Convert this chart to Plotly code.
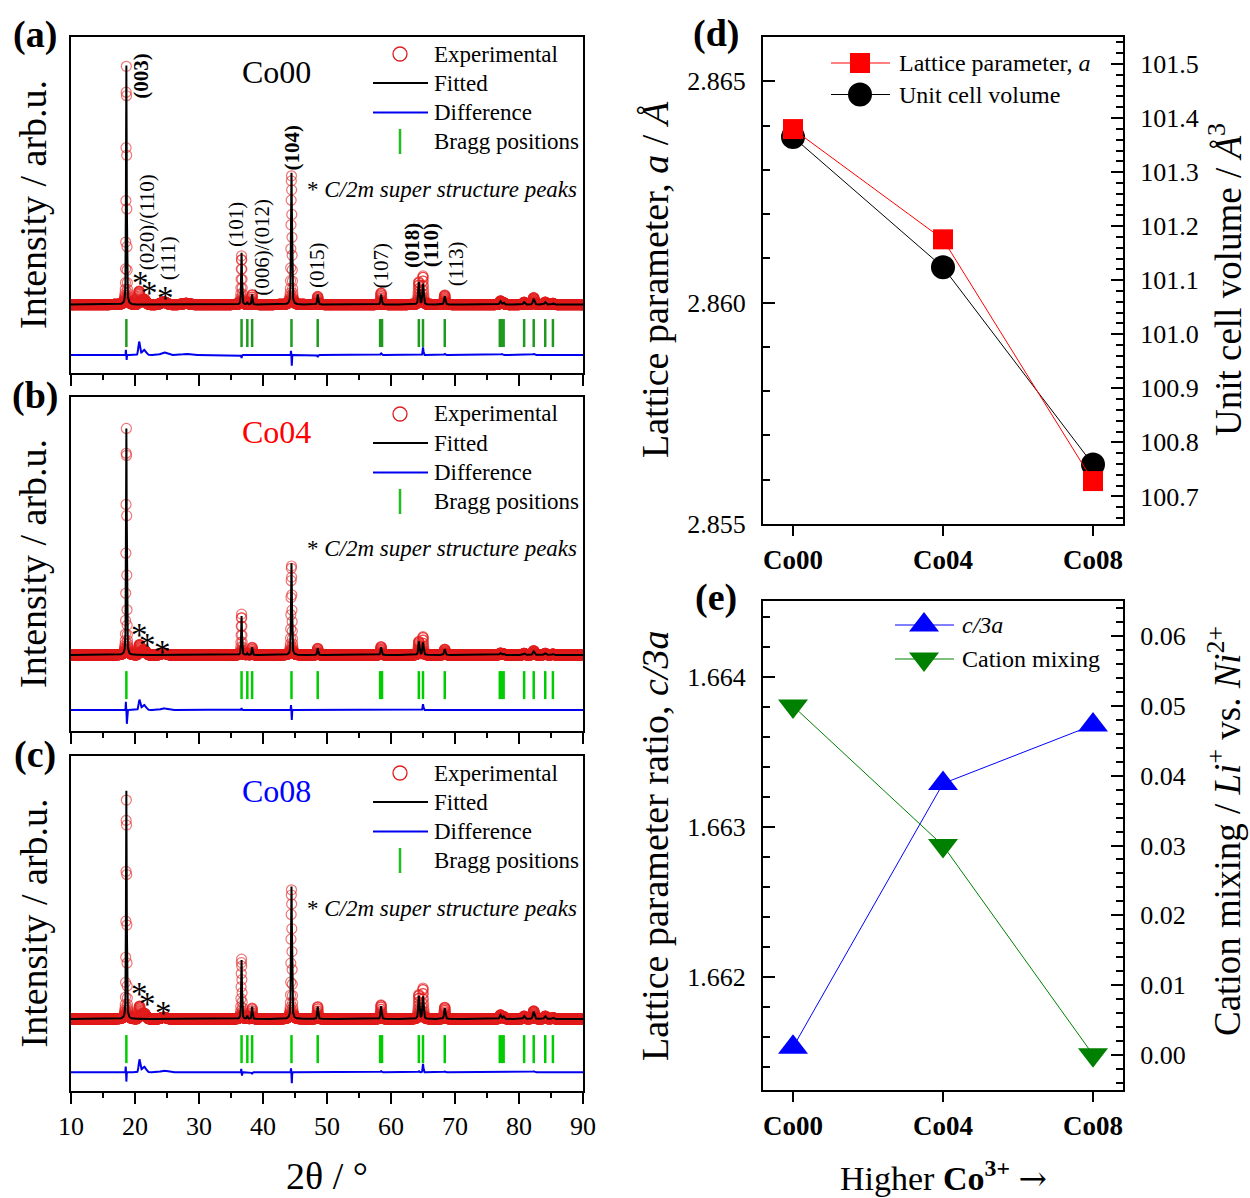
import numpy as np
import plotly.graph_objects as go

SERIF = "Liberation Serif"
W, H = 1250, 1198


def fx(px):
    return px / W


def fy(py):
    return 1 - py / H


# ---------------- Rietveld refinement data (intensity, arb. units) ----------------
scan_start, scan_stop, scan_step = 10.0, 90.0, 0.025

# R-3m reflections used in the refinement
peak_pos = [18.65, 36.65, 37.55, 38.30, 44.45, 48.55, 58.45, 64.35, 65.00, 68.40,
            77.10, 77.60, 80.80, 82.30, 84.10, 85.30]
peak_fwhm = [0.13, 0.15, 0.15, 0.16, 0.17, 0.19, 0.21, 0.22, 0.22, 0.24,
             0.28, 0.28, 0.30, 0.30, 0.32, 0.32]

fit_co00 = [100.0, 21.7, 1.0, 4.2, 55.2, 4.2, 4.2, 9.4, 8.7, 3.5, 1.4, 0.8, 1.0, 2.4, 1.0, 0.5]
fit_co04 = [94.8, 16.3, 0.7, 3.2, 38.4, 2.8, 3.2, 5.6, 5.2, 2.4, 0.8, 0.5, 0.7, 1.5, 0.7, 0.4]
fit_co08 = [95.5, 24.7, 1.3, 5.2, 55.4, 5.2, 5.4, 9.6, 9.3, 4.5, 1.7, 1.0, 1.2, 3.0, 1.2, 0.6]

# observed - calculated features (C/2m superstructure humps and misfit at strong lines)
resid_pos_co00 = [18.57, 18.70, 20.65, 21.40, 24.50, 28.00, 36.65, 44.38, 44.50, 48.55, 58.45, 65.00, 68.40, 77.30, 82.30]
resid_amp_co00 = [2.2, -2.1, 5.5, 2.2, 1.1, 0.5, -1.3, 1.8, -4.5, -0.8, 0.7, 3.2, 0.5, 0.4, 0.5]
resid_fwhm_co00 = [0.06, 0.06, 0.30, 0.70, 1.00, 1.20, 0.10, 0.08, 0.08, 0.15, 0.20, 0.15, 0.20, 0.30, 0.30]

resid_pos_co04 = [18.57, 18.73, 20.70, 21.40, 24.50, 36.65, 44.38, 44.50, 58.45, 65.00, 82.30]
resid_amp_co04 = [3.5, -5.9, 4.2, 2.1, 0.7, 0.8, 2.1, -4.2, 0.3, 2.4, 0.3]
resid_fwhm_co04 = [0.06, 0.06, 0.30, 0.70, 1.00, 0.10, 0.08, 0.08, 0.20, 0.15, 0.30]

resid_pos_co08 = [18.55, 18.66, 20.70, 21.40, 24.50, 36.60, 36.72, 38.30, 44.38, 44.50, 58.45, 64.35, 65.00, 68.40, 82.30]
resid_amp_co08 = [2.4, -4.2, 5.2, 2.4, 0.7, 1.4, -1.4, -0.7, 1.7, -4.6, 0.5, 0.5, 3.5, 0.4, 0.4]
resid_fwhm_co08 = [0.06, 0.06, 0.30, 0.70, 1.00, 0.08, 0.08, 0.12, 0.08, 0.08, 0.20, 0.15, 0.15, 0.20, 0.30]

bragg_positions = [18.65, 36.65, 37.55, 38.30, 44.45, 48.55, 58.30, 58.60, 64.35, 65.00,
                   68.40, 77.00, 77.30, 77.60, 80.80, 82.30, 84.10, 85.30]

hkl_labels = ["(003)", "(020)/(110)", "(111)", "(101)", "(006)/(012)", "(104)",
              "(015)", "(107)", "(018)", "(110)", "(113)"]
hkl_label_x = [20.9, 21.9, 25.2, 35.8, 39.8, 44.6, 48.45, 58.5, 63.3, 66.3, 70.2]
hkl_label_bold = [True, False, False, False, False, True, False, False, True, True, False]

# ---------------- Refined structural parameters ----------------
samples = ["Co00", "Co04", "Co08"]
lattice_a = [2.86392, 2.86143, 2.85597]          # Å
cell_volume = [101.365, 101.124, 100.759]         # Å^3
c_over_3a = [1.66153, 1.66329, 1.66368]
cation_mixing = [0.050, 0.030, 0.000]


def profile(x, pos, height, fwhm, eta=0.5):
    y = np.zeros_like(x)
    for p, h, w in zip(pos, height, fwhm):
        lor = 1.0 / (1.0 + ((x - p) / (w / 2.0)) ** 2)
        gau = np.exp(-4.0 * np.log(2.0) * ((x - p) / w) ** 2)
        y += h * (eta * lor + (1 - eta) * gau)
    return y


def gauss_sum(x, pos, amp, fwhm):
    y = np.zeros_like(x)
    for p, a, w in zip(pos, amp, fwhm):
        y += a * np.exp(-4.0 * np.log(2.0) * ((x - p) / w) ** 2)
    return y


two_theta = np.arange(scan_start, scan_stop + scan_step / 2, scan_step)

PX_PER_UNIT = 2.39  # vertical scale of the XRD panels

xrd_panels = [
    dict(tag="(a)", sample="Co00", sample_color="black", fit=fit_co00,
         rp=resid_pos_co00, ra=resid_amp_co00, rw=resid_fwhm_co00,
         top=37, bottom=373, base=304.6, bragg_y=-11.9, diff_y=-21.1, bragg_color="#1f9a1f"),
    dict(tag="(b)", sample="Co04", sample_color="#ff0000", fit=fit_co04,
         rp=resid_pos_co04, ra=resid_amp_co04, rw=resid_fwhm_co04,
         top=397, bottom=731, base=655.0, bragg_y=-12.6, diff_y=-23.0, bragg_color="#00cc00"),
    dict(tag="(c)", sample="Co08", sample_color="#0000ff", fit=fit_co08,
         rp=resid_pos_co08, ra=resid_amp_co08, rw=resid_fwhm_co08,
         top=756, bottom=1091, base=1019.0, bragg_y=-12.6, diff_y=-22.3, bragg_color="#00cc00"),
]

XL, XR = 71, 583

fig = go.Figure()
annotations = []
shapes = []


def text(x, y, s, size, color="black", xanchor="center", yanchor="middle",
         angle=0, xref="paper", yref="paper"):
    annotations.append(dict(
        x=x, y=y, xref=xref, yref=yref, text=s, showarrow=False,
        xanchor=xanchor, yanchor=yanchor, textangle=angle,
        font=dict(family=SERIF, size=size, color=color)))


def seg(x0, y0, x1, y1, color, width):
    shapes.append(dict(type="line", xref="paper", yref="paper",
                       x0=fx(x0), y0=fy(y0), x1=fx(x1), y1=fy(y1),
                       line=dict(color=color, width=width)))


def sym(kind, cx, cy, size, color, open_=False, lw=1.2):
    r = size / 2.0
    d = dict(xref="paper", yref="paper", xsizemode="pixel", ysizemode="pixel",
             xanchor=fx(cx), yanchor=fy(cy))
    if kind == "circle":
        d.update(type="circle", x0=-r, x1=r, y0=-r, y1=r)
    elif kind == "square":
        d.update(type="rect", x0=-r, x1=r, y0=-r, y1=r)
    elif kind == "tri-up":
        rt = r * 2 / np.sqrt(3)
        d.update(type="path", path=f"M{-rt:.2f},{-r/2:.2f} L{rt:.2f},{-r/2:.2f} L0,{r:.2f} Z")
    elif kind == "tri-down":
        rt = r * 2 / np.sqrt(3)
        d.update(type="path", path=f"M{-rt:.2f},{r/2:.2f} L{rt:.2f},{r/2:.2f} L0,{-r:.2f} Z")
    if open_:
        d.update(fillcolor="rgba(0,0,0,0)", line=dict(color=color, width=lw))
    else:
        d.update(fillcolor=color, line=dict(width=0))
    shapes.append(d)


layout_axes = {}
for i, pnl in enumerate(xrd_panels):
    n = "" if i == 0 else str(i + 1)
    xa, ya = "x" + n, "y" + n
    fit = profile(two_theta, peak_pos, pnl["fit"], peak_fwhm)
    obs = fit + gauss_sum(two_theta, pnl["rp"], pnl["ra"], pnl["rw"])

    fig.add_trace(go.Scatter(
        x=two_theta, y=obs, mode="markers", xaxis=xa, yaxis=ya, showlegend=False,
        hoverinfo="skip",
        marker=dict(symbol="circle-open", size=10, color="rgba(226,30,30,0.6)",
                    line=dict(width=1.2))))
    fig.add_trace(go.Scatter(
        x=two_theta, y=fit, mode="lines", xaxis=xa, yaxis=ya, showlegend=False,
        hoverinfo="skip", line=dict(color="black", width=2)))
    fig.add_trace(go.Scatter(
        x=two_theta, y=obs - fit + pnl["diff_y"], mode="lines", xaxis=xa, yaxis=ya,
        showlegend=False, hoverinfo="skip", line=dict(color="#0000ee", width=2)))
    fig.add_trace(go.Scatter(
        x=bragg_positions, y=[pnl["bragg_y"]] * len(bragg_positions), mode="markers",
        xaxis=xa, yaxis=ya, showlegend=False, hoverinfo="skip",
        marker=dict(symbol="line-ns", size=20,
                    line=dict(width=2.5, color=pnl["bragg_color"]))))

    top_u = (pnl["base"] - pnl["top"]) / PX_PER_UNIT
    bot_u = -(pnl["bottom"] - pnl["base"]) / PX_PER_UNIT
    last = i == len(xrd_panels) - 1
    layout_axes["xaxis" + n] = dict(
        domain=[fx(XL), fx(XR)], anchor=ya, range=[10, 90], tick0=10, dtick=10,
        showline=True, linecolor="black", linewidth=2, mirror=True,
        ticks="outside", ticklen=11, tickwidth=2, tickcolor="black",
        minor=dict(ticks="outside", ticklen=5, tickwidth=2, tickcolor="black", dtick=5),
        showgrid=False, zeroline=False, showticklabels=last, ticklabelstandoff=0,
        automargin=False, tickfont=dict(family=SERIF, size=26, color="black"))
    layout_axes["yaxis" + n] = dict(
        domain=[fy(pnl["bottom"]), fy(pnl["top"])], anchor=xa, range=[bot_u, top_u],
        showline=True, linecolor="black", linewidth=2, mirror=True, ticks="",
        showticklabels=False, showgrid=False, zeroline=False, automargin=False)

    # panel tag, axis title, sample name
    t = pnl["top"]
    text(fx(35), fy(t - 2), f"<b>{pnl['tag']}</b>", 38)
    text(fx(33), fy((pnl["top"] + pnl["bottom"]) / 2), "Intensity / arb.u.", 38, angle=-90)
    text(fx(276), fy(t + 35), pnl["sample"], 32, color=pnl["sample_color"])

    # legend
    sym("circle", 400, t + 17, 14, "#e01e1e", open_=True, lw=1.3)
    seg(373, t + 46, 428, t + 46, "black", 2)
    seg(373, t + 75.5, 428, t + 75.5, "#0000ee", 2)
    seg(400, t + 92, 400, t + 117, "#22bb22", 2.5)
    for k, lbl in enumerate(["Experimental", "Fitted", "Difference", "Bragg positions"]):
        text(fx(432), fy(t + 17 + k * 29.2), lbl, 23, xanchor="left")
    text(fx(305), fy(t + 152), "* <i>C/2m super structure peaks</i>", 23, xanchor="left")

# asterisks marking the C/2m superstructure reflections
star_x = [[20.8, 22.3, 24.8], [20.7, 22.0, 24.3], [20.7, 22.0, 24.5]]
star_dy = [[239, 249, 254], [231, 241, 248], [231, 241, 250]]
for i, pnl in enumerate(xrd_panels):
    n = "" if i == 0 else str(i + 1)
    for sx, dy in zip(star_x[i], star_dy[i]):
        text(sx, fy(pnl["top"] + dy + 7), "*", 33, xref="x" + n)

# Miller indices in panel (a)
hkl_label_py = [76, 222, 258, 224, 247, 147, 265, 265, 245, 245, 264]
for lbl, lx, ly, bold in zip(hkl_labels, hkl_label_x, hkl_label_py, hkl_label_bold):
    s = f"<b>{lbl}</b>" if bold else lbl
    text(lx, fy(ly), s, 21, xref="x", angle=-90)

text(fx((XL + XR) / 2), fy(1176), "2θ / °", 38)

# ---------------- Panel (d): lattice parameter a and cell volume ----------------
DXL, DXR = 763, 1123
cat_range = [-0.2, 2.2]
bold_ticks = [f"<b>{s}</b>" for s in samples]

# cell volume on the base (right-hand) axis, lattice parameter drawn over it
fig.add_trace(go.Scatter(
    x=samples, y=cell_volume, mode="lines+markers", xaxis="x4", yaxis="y4",
    showlegend=False, line=dict(color="black", width=1),
    marker=dict(symbol="circle", size=24, color="black")))
fig.add_trace(go.Scatter(
    x=samples, y=lattice_a, mode="lines+markers", xaxis="x4", yaxis="y5",
    showlegend=False, line=dict(color="#ff0000", width=1),
    marker=dict(symbol="square", size=20, color="#ff0000")))

# ---------------- Panel (e): c/3a ratio and cation mixing ----------------
fig.add_trace(go.Scatter(
    x=samples, y=c_over_3a, mode="lines+markers", xaxis="x6", yaxis="y6",
    showlegend=False, line=dict(color="#0000ff", width=1),
    marker=dict(symbol="triangle-up", size=26, color="#0000ff")))
fig.add_trace(go.Scatter(
    x=samples, y=cation_mixing, mode="lines+markers", xaxis="x6", yaxis="y7",
    showlegend=False, line=dict(color="#008000", width=1),
    marker=dict(symbol="triangle-down", size=26, color="#008000")))

tick_font = dict(family=SERIF, size=26, color="black")


def cat_axis(anchor):
    return dict(domain=[fx(DXL), fx(DXR)], anchor=anchor, type="category",
                range=cat_range, tickvals=samples, ticktext=bold_ticks,
                showline=True, linecolor="black", linewidth=2, mirror=True,
                ticks="outside", ticklen=10, tickwidth=2, tickcolor="black",
                showgrid=False, zeroline=False, ticklabelstandoff=1, automargin=False,
                tickfont=dict(family=SERIF, size=27, color="black"))


def val_axis(domain_px, rng, dtick, minor_dtick, fmt, side="left", overlay=None, anchor=None):
    d = dict(range=rng, dtick=dtick, tick0=0, tickformat=fmt, side=side,
             showline=True, linecolor="black", linewidth=2,
             ticks="inside", ticklen=12, tickwidth=2, tickcolor="black",
             minor=dict(ticks="inside", ticklen=7, tickwidth=2, tickcolor="black",
                        dtick=minor_dtick),
             showgrid=False, zeroline=False, ticklabelstandoff=10, automargin=False,
             tickfont=tick_font)
    if overlay:
        d.update(overlaying=overlay, anchor=anchor)
    else:
        d.update(domain=[fy(domain_px[1]), fy(domain_px[0])], anchor=anchor)
    return d


layout_axes["xaxis4"] = cat_axis("y4")
layout_axes["yaxis4"] = val_axis((37, 524), [100.649, 101.55], 0.1, 0.02, ".1f", side="right",
                                 anchor="x4")
layout_axes["yaxis5"] = val_axis(None, [2.855, 2.866], 0.005, 0.001, ".3f", side="left",
                                 overlay="y4", anchor="x4")
layout_axes["xaxis6"] = cat_axis("y6")
layout_axes["yaxis6"] = val_axis((601, 1090), [1.661245, 1.664508], 0.001, 0.0002, ".3f", anchor="x6")
layout_axes["yaxis7"] = val_axis(None, [-0.00507, 0.06507], 0.01, 0.002, ".2f", side="right",
                                 overlay="y6", anchor="x6")

# panel tags and axis titles
text(fx(716), fy(33), "<b>(d)</b>", 38)
text(fx(716), fy(597), "<b>(e)</b>", 38)
text(fx(655), fy(280), "Lattice parameter, <i>a</i> / <i>Å</i>", 38, angle=-90)
text(fx(1226), fy(280), "Unit cell volume / <i>Å</i><sup>3</sup>", 37, angle=-90)
text(fx(655), fy(846), "Lattice parameter ratio, <i>c/3a</i>", 38, angle=-90)
text(fx(1224), fy(831), "Cation mixing / <i>Li</i><sup>+</sup> vs. <i>Ni</i><sup>2+</sup>", 37, angle=-90)
text(fx(943), fy(1176),
     'Higher <b>Co<sup>3+</sup></b> <span style="font-family:DejaVu Serif">→</span>', 34)

# legend of panel (d)
seg(831, 63, 890, 63, "#ff0000", 1)
sym("square", 860, 63, 20, "#ff0000")
text(fx(897), fy(63), "Lattice parameter, <i>a</i>", 24, xanchor="left")
seg(831, 94.5, 890, 94.5, "black", 1)
sym("circle", 860, 94.5, 24, "black")
text(fx(897), fy(94.5), "Unit cell volume", 24, xanchor="left")

# legend of panel (e)
seg(895, 625, 954, 625, "#0000ff", 1)
sym("tri-up", 924, 625, 26, "#0000ff")
text(fx(960), fy(625), "<i>c/3a</i>", 24, xanchor="left")
seg(895, 659, 954, 659, "#008000", 1)
sym("tri-down", 924, 659, 26, "#008000")
text(fx(960), fy(659), "Cation mixing", 24, xanchor="left")

fig.update_layout(
    width=W, height=H, autosize=False,
    margin=dict(l=0, r=0, t=0, b=0, pad=0),
    paper_bgcolor="white", plot_bgcolor="white",
    font=dict(family=SERIF, color="black"),
    showlegend=False,
    annotations=annotations, shapes=shapes,
    **layout_axes)

fig.write_html("out.html", config={"displayModeBar": False})
